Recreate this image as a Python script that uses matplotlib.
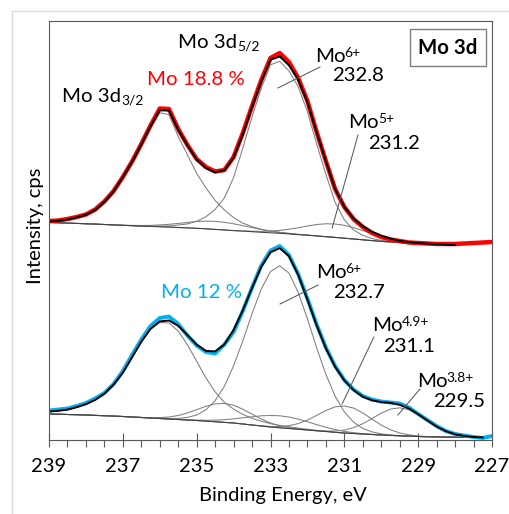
import numpy as np
import matplotlib
matplotlib.use("Agg")
import matplotlib.pyplot as plt
from matplotlib.patches import Rectangle
from matplotlib.ticker import FixedLocator, MultipleLocator

plt.rcParams['font.family'] = ['Lato', 'DejaVu Sans']

# binding energy grid, eV
energy = [239.0, 238.75, 238.5, 238.25, 238.0, 237.75, 237.5, 237.25, 237.0,
          236.75, 236.5, 236.25, 236.0, 235.75, 235.5, 235.25, 235.0, 234.75,
          234.5, 234.25, 234.0, 233.75, 233.5, 233.25, 233.0, 232.75, 232.5,
          232.25, 232.0, 231.75, 231.5, 231.25, 231.0, 230.75, 230.5, 230.25,
          230.0, 229.75, 229.5, 229.25, 229.0, 228.75, 228.5, 228.25, 228.0,
          227.75, 227.5, 227.25, 227.0]
tick_vals = [239, 237, 235, 233, 231, 229, 227]

# ---- upper spectrum, Mo 18.8 % (red) ----
red_data = [219, 219.5, 221, 223, 225.5, 230.5, 238.5, 249, 263,
            278.5, 296, 314.5, 331.5, 331, 311, 295, 281, 273,
            268.5, 270, 283, 307, 334, 360, 382, 387, 378,
            362, 339, 308, 279, 251, 233, 221, 213, 207,
            203, 200.5, 199, 197.5, 197, 196.5, 196, 196, 196,
            196.5, 197, 197.5, 198]
red_fit = [218.5, 219.2, 220.4, 222.6, 225.2, 229.9, 238.0, 248.6, 262.8,
           278.1, 295.5, 313.9, 329.7, 329.4, 310.1, 294.6, 280.5, 271.9,
           267.6, 269.7, 282.3, 305.6, 332.8, 358.4, 380.2, 383.5, 374.7,
           360.5, 337.7, 307.5, 278.7, 251, 233.2, 221.4, 213.9, 208.2,
           204.3, 201.4, 199.1, 197.8, 197, 196.3, 195.8, 195.3, 195.0,
           194.9, 194.8, 194.6, 194.5]
red_bg = [217.5, 217.2, 216.9, 216.6, 216.2, 215.9, 215.5, 215.1, 214.7,
          214.3, 213.9, 213.6, 213.3, 212.9, 212.5, 212.1, 211.7, 211.2,
          210.6, 210.0, 209.4, 208.9, 208.3, 207.7, 207.2, 206.7, 206.1,
          205.4, 204.8, 204.1, 203.3, 202.6, 201.8, 201.0, 200.2, 199.4,
          198.6, 198.0, 197.4, 196.9, 196.5, 196.1, 195.7, 195.3, 195.0,
          194.9, 194.8, 194.6, 194.5]
# peak components above background
red_mo6_32 = [1, 2, 3.5, 6, 9, 14, 22.5, 33.5, 48,
              63.5, 81, 99, 114, 112.5, 91, 73, 55, 41,
              29, 20, 13, 8, 5, 3, 1.5, 0.8, 0.3] + [0] * 22
red_mo6_52 = [0] * 11 + [0.3, 0.6, 1.2, 2.5, 4, 7, 12, 20, 32, 53, 83, 115,
                         144, 168, 172, 163, 148, 123.5, 92, 62.5, 35, 18.5,
                         9, 4.5, 2, 1, 0.5] + [0] * 11
red_mo5_52 = [0] * 21 + [0.2, 0.5, 0.9, 1.7, 2.9, 4.7, 6.8, 9.2, 11.4, 12.9,
                         13.4, 12.9, 11.4, 9.2, 6.8, 4.7, 2.9, 1.7, 0.9, 0.5,
                         0.2] + [0] * 7
red_mo5_32 = [0] * 8 + [0.1, 0.3, 0.6, 1.0, 1.8, 2.8, 4.1, 5.5, 6.8, 7.7, 8,
                        7.7, 6.8, 5.5, 4.1, 2.8, 1.8, 1.0, 0.6, 0.3,
                        0.1] + [0] * 20

# ---- lower spectrum, Mo 12 % (blue) ----
blue_data = [29.5, 30.5, 31.5, 34, 37, 41.5, 47, 56, 69,
             85, 100.5, 114, 122, 123.5, 116, 104.5, 94.5, 88,
             86.5, 95.5, 108, 129, 152.5, 174.5, 189.5, 194, 185,
             166, 141.5, 115.5, 92.5, 74, 60, 50.5, 44, 40.5,
             38.5, 37.5, 36.5, 32.5, 26, 20, 14, 9, 6,
             4.5, 3, 2, 4]
blue_fit = [28.4, 29.2, 30.4, 32.8, 35.8, 40.1, 46.3, 55.4, 67.2,
            82.7, 98.3, 111.1, 118.6, 119.5, 114.2, 105.0, 95.4, 89.1,
            88.6, 95.5, 110.1, 129.7, 152.0, 173.2, 187.7, 191.9, 183.8,
            165.1, 140.3, 114.6, 91.7, 73.2, 59.6, 49.9, 43.2, 39.7,
            37.9, 37.1, 35.2, 31.5, 25.8, 19.5, 13.4, 8.8, 5.7,
            4.0, 3.0, 2.6, 2.3]
blue_bg = [26.0, 25.8, 25.5, 25.3, 25.0, 24.6, 24.3, 23.9, 23.5,
           23.0, 22.5, 22.0, 21.5, 21.0, 20.5, 20.0, 19.5, 18.9,
           18.3, 17.6, 17.0, 16.0, 15.0, 14.0, 13.0, 12.2, 11.5,
           10.7, 10.0, 9.2, 8.5, 7.7, 7.0, 6.5, 6.0, 5.5,
           5.0, 4.6, 4.2, 3.9, 3.5, 3.3, 3.1, 2.9, 2.8,
           2.7, 2.5, 2.4, 2.3]
blue_mo6_32 = [2.4, 3.4, 4.9, 7.5, 10.8, 15.5, 22, 31.5, 43.7,
               59.7, 75.7, 88.8, 96, 96, 88.5, 75.2, 59.2, 43.3,
               29.8, 20.1, 13.9, 9.6, 6.7, 4.8, 3.3, 2.4, 1.7,
               1.2, 0.8, 0.5, 0.3] + [0] * 18
blue_mo6_52 = [0] * 12 + [0.2, 0.5, 1.1, 2.6, 5.5, 11.3, 21.1, 36.1, 57.2,
                          83.1, 111.3, 137, 155.4, 162, 155.4, 137, 111.3,
                          83.1, 57.2, 36.1, 21.1, 11.3, 5.5, 2.6, 1.1, 0.5,
                          0.2] + [0] * 10
blue_mo49_52 = [0] * 23 + [0.2, 0.5, 1.3, 2.8, 5.7, 9.9, 15.4, 21.0, 25.4, 27,
                           25.4, 21.0, 15.4, 9.9, 5.7, 2.8, 1.3, 0.5,
                           0.2] + [0] * 7
blue_mo49_32 = [0] * 10 + [0.1, 0.3, 0.9, 2.0, 4.0, 7.0, 10.8, 14.8, 17.8, 19,
                           17.8, 14.8, 10.8, 7.0, 4.0, 2.0, 0.9, 0.3,
                           0.1] + [0] * 20
blue_mo38_52 = [0] * 29 + [0.2, 0.5, 1.3, 2.9, 5.9, 10.3, 16.0, 21.8, 26.3, 28,
                           26.3, 21.8, 16.0, 10.3, 5.9, 2.9, 1.3, 0.5,
                           0.2] + [0]
blue_mo38_32 = [0] * 14 + [0.1, 0.2, 0.4, 0.8, 1.6, 2.7, 4.2, 6.2, 8.2, 10.2,
                           11.5, 12, 11.5, 10.2, 8.2, 6.2, 4.2, 2.7, 1.6, 0.8,
                           0.4, 0.2, 0.1] + [0] * 12

RED = '#ff0000'
BLUE = '#00b0f0'
GREY = '#7f7f7f'
AXC = '#595959'

fig = plt.figure(figsize=(5.10, 5.14), dpi=100)
ax = fig.add_axes([49 / 510, 1 - 440 / 514, 443 / 510, 419 / 514])

# light frame around the whole chart area
fig.patches.append(Rectangle((12 / 510, -0.1), 1.2, 1.1 - 11 / 514,
                             transform=fig.transFigure, fill=False,
                             edgecolor='#d9d9d9', lw=1.0))

E = np.array(energy)
top_end = 45      # fit range of the upper spectrum ends at 228 eV
bot_end = 48

bg = np.array(red_bg)
for comp in (red_mo6_32, red_mo6_52, red_mo5_32, red_mo5_52):
    ax.plot(E[:top_end], (bg + np.array(comp))[:top_end], color=GREY, lw=0.75)
ax.plot(E[:top_end], bg[:top_end], color='#404040', lw=0.75)
ax.plot(E, red_data, color=RED, lw=3.2, solid_capstyle='round')
ax.plot(E[:top_end], red_fit[:top_end], color='black', lw=1.4)

bg = np.array(blue_bg)
for comp in (blue_mo6_32, blue_mo6_52, blue_mo49_32, blue_mo49_52,
             blue_mo38_32, blue_mo38_52):
    ax.plot(E[:bot_end], (bg + np.array(comp))[:bot_end], color=GREY, lw=0.75)
ax.plot(E[:bot_end], bg[:bot_end], color='#404040', lw=0.75)
ax.plot(E, blue_data, color=BLUE, lw=2.8, solid_capstyle='round')
ax.plot(E[:bot_end], blue_fit[:bot_end], color='black', lw=1.4)

ax.set_xlim(239, 227)
ax.set_ylim(0, 419)
ax.set_yticks([])
ax.xaxis.set_major_locator(FixedLocator(tick_vals))
ax.xaxis.set_minor_locator(MultipleLocator(0.5))
ax.set_xticklabels([str(t) for t in tick_vals])
ax.tick_params(axis='x', which='major', direction='inout', length=10,
               width=0.8, color=AXC, labelsize=14.5, pad=8)
ax.tick_params(axis='x', which='minor', direction='out', length=5,
               width=0.8, color=AXC)
for s in ax.spines.values():
    s.set_color(AXC)
    s.set_linewidth(0.8)

ax.set_xlabel('Binding Energy, eV', fontsize=14.5)
ax.xaxis.set_label_coords(0.528, -0.113)
ax.set_ylabel('Intensity, cps', fontsize=14.5)
ax.yaxis.set_label_coords(-0.012, 0.51)

fs = 14.7
fs_s = 10


def label(x, y, main, script=None, sup=True, **kw):
    t = ax.text(x, y, main, fontsize=fs, **kw)
    if script is None:
        return
    if sup:
        ax.annotate(script, xy=(1.0, 1.0), xycoords=t, xytext=(-0.6, 0.6),
                    textcoords='offset points', fontsize=fs_s,
                    ha='left', va='top', **kw)
    else:
        ax.annotate(script, xy=(1.0, 0.0), xycoords=t, xytext=(0.3, 0.5),
                    textcoords='offset points', fontsize=fs_s,
                    ha='left', va='baseline', **kw)


label(238.65, 338, 'Mo 3d', '3/2', sup=False)
label(235.51, 392, 'Mo 3d', '5/2', sup=False)
label(236.35, 355, 'Mo 18.8 %', color=RED)
label(231.80, 378, 'Mo', '6+')
label(231.33, 359, '232.8')
ax.plot([231.66, 232.80], [373, 352], color=AXC, lw=0.75)
label(230.90, 312, 'Mo', '5+')
label(230.36, 291, '231.2')
ax.plot([230.63, 231.33], [305, 212], color=AXC, lw=0.75)
ax.text(228.19, 392.5, 'Mo 3d', fontsize=fs, fontweight='bold',
        ha='center', va='center',
        bbox=dict(boxstyle='square,pad=0.42', fc='white', ec=GREY, lw=1.0))

label(235.97, 142, 'Mo 12 %', color=BLUE)
label(231.77, 162, 'Mo', '6+')
label(231.31, 142, '232.7')
ax.plot([231.71, 232.74], [155, 136], color=AXC, lw=0.75)
label(230.25, 109, 'Mo', '4.9+')
label(229.95, 88, '231.1')
ax.plot([230.20, 231.06], [103, 36], color=AXC, lw=0.75)
label(229.03, 53, 'Mo', '3.8+')
label(228.60, 33, '229.5')
ax.plot([228.95, 229.55], [51, 25], color=AXC, lw=0.75)

fig.savefig('out.png', dpi=100)
